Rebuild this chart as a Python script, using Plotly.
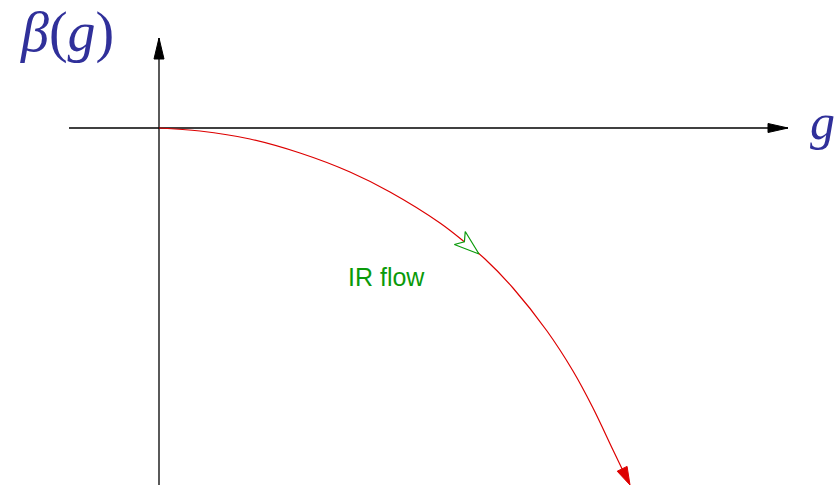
import numpy as np
import plotly.graph_objects as go

# Curve of the beta function (1 unit = 100 px on both axes)
g_vals = [0.00, 0.41, 0.91, 1.41, 1.91, 2.31, 2.81, 3.08, 3.26, 3.54, 3.88, 4.14, 4.34, 4.54, 4.71]
beta_vals = [0.00, -0.03, -0.11, -0.25, -0.44, -0.64, -0.95, -1.16, -1.31, -1.60, -2.03, -2.43, -2.80, -3.22, -3.57]

flow_label = "IR flow"
flow_marker_g = 3.20
x_axis_label = "<i>g</i>"
y_axis_label = "<i>β</i>(<i>g</i>)"

X_RANGE = [-1.59, 6.78]
Y_RANGE = [-3.57, 1.28]
X_AXIS_EXT = [-0.90, 6.29]
Y_AXIS_EXT = [-3.57, 0.90]

RED = "#dd0000"
GREEN = "#0a9a0a"
BLUE = "#30309a"


def head(tip, direction, length, half_w, notch=None):
    d = np.asarray(direction, float)
    d = d / np.linalg.norm(d)
    p = np.array([-d[1], d[0]])
    t = np.asarray(tip, float)
    base = t - d * length
    pts = [t, base + p * half_w]
    if notch is not None:
        pts.append(t - d * notch)
    pts += [base - p * half_w, t]
    pts = np.array(pts)
    return pts[:, 0], pts[:, 1]


fig = go.Figure()

# axes
fig.add_trace(go.Scatter(x=X_AXIS_EXT, y=[0, 0], mode="lines",
                         line=dict(color="black", width=1.3), hoverinfo="skip"))
fig.add_trace(go.Scatter(x=[0, 0], y=Y_AXIS_EXT, mode="lines",
                         line=dict(color="black", width=1.3), hoverinfo="skip"))
hx, hy = head((X_AXIS_EXT[1], 0), (1, 0), 0.20, 0.045)
fig.add_trace(go.Scatter(x=hx, y=hy, mode="lines", fill="toself", fillcolor="black",
                         line=dict(color="black", width=1), hoverinfo="skip"))
hx, hy = head((0, Y_AXIS_EXT[1]), (0, 1), 0.21, 0.05)
fig.add_trace(go.Scatter(x=hx, y=hy, mode="lines", fill="toself", fillcolor="black",
                         line=dict(color="black", width=1), hoverinfo="skip"))

# beta curve
fig.add_trace(go.Scatter(x=g_vals[:-1] + [g_vals[-1] - 0.05], y=beta_vals[:-1] + [beta_vals[-1] + 0.10],
                         mode="lines", line=dict(color=RED, width=1.2, shape="spline", smoothing=1.0),
                         hoverinfo="skip"))
dend = (g_vals[-1] - g_vals[-2], beta_vals[-1] - beta_vals[-2])
hx, hy = head((g_vals[-1], beta_vals[-1]), dend, 0.18, 0.055)
fig.add_trace(go.Scatter(x=hx, y=hy, mode="lines", fill="toself", fillcolor=RED,
                         line=dict(color=RED, width=1), hoverinfo="skip"))

# flow direction marker (open arrowhead)
fb = float(np.interp(flow_marker_g, g_vals, beta_vals))
i = int(np.searchsorted(g_vals, flow_marker_g))
dflow = (g_vals[i] - g_vals[i - 1], beta_vals[i] - beta_vals[i - 1])
hx, hy = head((flow_marker_g, fb), dflow, 0.25, 0.085, notch=0.19)
fig.add_trace(go.Scatter(x=hx, y=hy, mode="lines", fill="toself", fillcolor="white",
                         line=dict(color=GREEN, width=1.2), hoverinfo="skip"))

fig.add_annotation(x=2.27, y=-1.49, text=flow_label, showarrow=False,
                   font=dict(family="Liberation Sans, Arial", size=25, color=GREEN))
fig.add_annotation(x=-0.92, y=0.96, text=y_axis_label, showarrow=False,
                   font=dict(family="Liberation Serif, Times New Roman", size=56, color=BLUE))
fig.add_annotation(x=6.63, y=0.06, text=x_axis_label, showarrow=False,
                   font=dict(family="Liberation Serif, Times New Roman", size=50, color=BLUE))

fig.update_layout(
    width=837, height=485,
    margin=dict(l=0, r=0, t=0, b=0),
    paper_bgcolor="white", plot_bgcolor="white",
    showlegend=False,
    xaxis=dict(range=X_RANGE, visible=False, fixedrange=True),
    yaxis=dict(range=Y_RANGE, visible=False, fixedrange=True),
)

fig.write_html("out.html", config={"displayModeBar": False},
               post_script="document.body.style.margin='0';document.body.style.overflow='hidden';")
